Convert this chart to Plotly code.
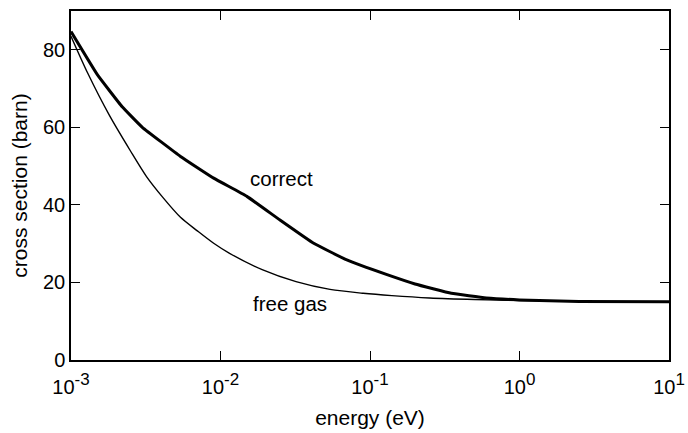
import plotly.graph_objects as go

# Scattering cross section vs. neutron energy
energy_correct = [0.001, 0.0015, 0.0022, 0.003, 0.0054, 0.009, 0.015, 0.025,
                  0.042, 0.07, 0.13, 0.2, 0.35, 0.6, 1.0, 2.5, 10.0]
sigma_correct = [84.7, 73.6, 65.3, 60.0, 52.5, 46.9, 42.2, 36.1,
                 30.1, 25.8, 22.0, 19.6, 17.2, 16.0, 15.5, 15.1, 15.0]

energy_free = [0.001, 0.0013, 0.0018, 0.0025, 0.0032, 0.0041, 0.0054, 0.007,
               0.009, 0.0115, 0.019, 0.032, 0.054, 0.09, 0.14, 0.25, 0.5,
               1.0, 3.0, 10.0]
sigma_free = [83.5, 73.8, 63.2, 53.9, 47.3, 42.0, 36.8, 33.3,
              30.1, 27.5, 23.3, 20.2, 18.2, 17.2, 16.6, 16.0, 15.6,
              15.35, 15.1, 15.0]

x_tickvals = [0.001, 0.01, 0.1, 1, 10]
x_exponents = ["-3", "-2", "-1", "0", "1"]
x_ticktext = ["10<sup><span style='font-size:17px'>%s</span></sup>" % e for e in x_exponents]
y_tickvals = [0, 20, 40, 60, 80]

FONT = "Arial, Liberation Sans, sans-serif"

fig = go.Figure()
fig.add_trace(go.Scatter(x=energy_free, y=sigma_free, mode="lines",
                         line=dict(color="black", width=1.4, shape="spline", smoothing=0.8),
                         showlegend=False))
fig.add_trace(go.Scatter(x=energy_correct, y=sigma_correct, mode="lines",
                         line=dict(color="black", width=3, shape="spline", smoothing=0.3),
                         showlegend=False))

fig.add_annotation(x=-1.816, y=46.7, xref="x", yref="y", text="correct",
                   showarrow=False, xanchor="left", yanchor="middle",
                   font=dict(family=FONT, size=20.5, color="black"))
fig.add_annotation(x=-1.798, y=14.6, xref="x", yref="y", text="free gas",
                   showarrow=False, xanchor="left", yanchor="middle",
                   font=dict(family=FONT, size=20.5, color="black"))

axis_common = dict(showline=True, linecolor="black", linewidth=1.5, mirror="allticks",
                   ticks="inside", ticklen=9, tickwidth=1, tickcolor="black",
                   showgrid=False, zeroline=False,
                   tickfont=dict(family=FONT, size=20, color="black"),
                   automargin=False)

fig.update_xaxes(type="log", range=[-3, 1], tickvals=x_tickvals, ticktext=x_ticktext,
                 ticklabelstandoff=8,
                 title=dict(text="energy (eV)", font=dict(family=FONT, size=21, color="black"),
                            standoff=14),
                 **axis_common)
fig.update_yaxes(range=[0, 90], tickvals=y_tickvals,
                 title=dict(text="cross section (barn)", font=dict(family=FONT, size=21, color="black"),
                            standoff=10),
                 **axis_common)

fig.update_layout(width=688, height=433,
                  margin=dict(l=71, r=19, t=11, b=73),
                  paper_bgcolor="white", plot_bgcolor="white",
                  font=dict(family=FONT, color="black"))

fig.write_html("out.html")
